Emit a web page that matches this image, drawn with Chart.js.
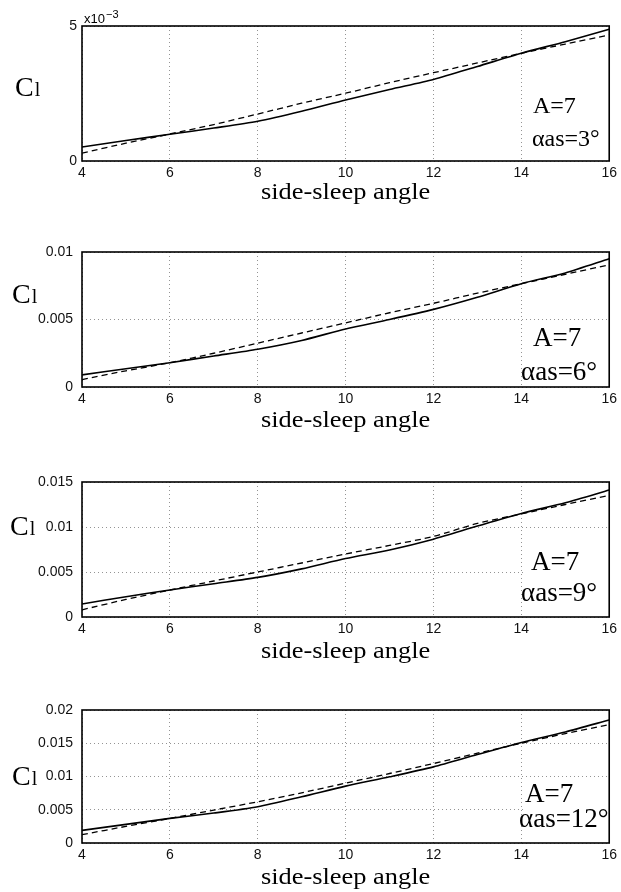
<!DOCTYPE html>
<html><head><meta charset="utf-8">
<script src="https://cdn.jsdelivr.net/npm/chart.js@4"></script>
<style>
html,body{margin:0;padding:0;background:#fff;width:621px;height:892px;overflow:hidden}
.p{position:absolute;left:0;width:621px}
</style></head><body>
<div class="p" style="top:0px"><canvas id="c0" width="621" height="226"></canvas></div>
<div class="p" style="top:226px"><canvas id="c1" width="621" height="230"></canvas></div>
<div class="p" style="top:456px"><canvas id="c2" width="621" height="228"></canvas></div>
<div class="p" style="top:684px"><canvas id="c3" width="621" height="208"></canvas></div>
<script>
// side-sleep angle (x)
const angles = [4,5,6,7,8,9,10,11,12,13,14,15,16];
// alpha_as = 3 deg
const solid3  = [0.00052,0.00076,0.00099,0.00122,0.00147,0.00184,0.00226,0.00265,0.00302,0.00350,0.00399,0.00442,0.00488];
const dashed3 = [0.00029,0.00066,0.00100,0.00135,0.00174,0.00214,0.00251,0.00290,0.00327,0.00363,0.00399,0.00433,0.00467];
// alpha_as = 6 deg
const solid6  = [0.00090,0.00135,0.00180,0.00230,0.00280,0.00345,0.00430,0.00500,0.00575,0.00665,0.00765,0.00845,0.00950];
const dashed6 = [0.00055,0.00120,0.00180,0.00250,0.00325,0.00400,0.00475,0.00550,0.00620,0.00695,0.00765,0.00835,0.00905];
// alpha_as = 9 deg
const solid9  = [0.00145,0.00225,0.00300,0.00370,0.00440,0.00535,0.00650,0.00745,0.00865,0.01010,0.01150,0.01270,0.01410];
const dashed9 = [0.00080,0.00195,0.00300,0.00400,0.00500,0.00600,0.00700,0.00795,0.00895,0.01040,0.01145,0.01250,0.01350];
// alpha_as = 12 deg
const solid12  = [0.00190,0.00280,0.00370,0.00450,0.00545,0.00695,0.00855,0.00995,0.01145,0.01330,0.01510,0.01670,0.01850];
const dashed12 = [0.00125,0.00250,0.00370,0.00495,0.00620,0.00755,0.00900,0.01045,0.01195,0.01350,0.01500,0.01645,0.01780];
// axis ranges / ticks
const yMaxes = [0.005, 0.01, 0.015, 0.02];
const yStep = 0.005;
const xTicks = {min:4, max:16, step:2};
const alphaLabels = ['\u03B1as=3\u00B0','\u03B1as=6\u00B0','\u03B1as=9\u00B0','\u03B1as=12\u00B0'];
const aLabel = 'A=7';
const xTitle = 'side-sleep angle';

const solids = [solid3, solid6, solid9, solid12];
const dasheds = [dashed3, dashed6, dashed9, dashed12];

// layout (pixels)
const layouts = [
  {canvasH:226, plotH:135, yPad:5, clX:15, clDy:-65, aX:533, aDy:-48, alX:532, alDy:-15, fs:24, tDy:38},
  {canvasH:230, plotH:135, yPad:9, clX:12, clDy:-84, aX:533, aDy:-41, alX:521, alDy:-7, fs:27, tDy:40},
  {canvasH:228, plotH:135, yPad:9, clX:10, clDy:-82, aX:531, aDy:-47, alX:521, alDy:-16, fs:27, tDy:41},
  {canvasH:208, plotH:133, yPad:9, clX:12, clDy:-58, aX:525, aDy:-41, alX:519, alDy:-16, fs:27, tDy:41}
];

const SERIF = '"Liberation Serif","Times New Roman",serif';
const SANS = '"Liberation Sans",Arial,sans-serif';

function makeChart(i){
  const L = layouts[i];
  const padTop = 26, xH = 30;
  const padBottom = L.canvasH - padTop - L.plotH - xH;
  const toXY = arr => angles.map((a,k)=>({x:a, y:arr[k]}));
  const deco = {
    id:'deco'+i,
    beforeDatasetsDraw(chart){
      const ctx = chart.ctx, ca = chart.chartArea;
      const x14 = chart.scales.x.getPixelForValue(14);
      ctx.save();
      ctx.fillStyle = '#fff';
      const top = ca.bottom + L.aDy - 22;
      ctx.fillRect(x14 + 2, top, ca.right - x14 - 3, ca.bottom - top - 1);
      ctx.restore();
    },
    afterDraw(chart){
      const ctx = chart.ctx, ca = chart.chartArea;
      ctx.save();
      // frame
      ctx.strokeStyle = '#000'; ctx.lineWidth = 1.6; ctx.setLineDash([]);
      ctx.strokeRect(ca.left, ca.top, ca.right - ca.left, ca.bottom - ca.top);
      ctx.fillStyle = '#000';
      ctx.textBaseline = 'alphabetic';
      ctx.textAlign = 'left';
      // annotation
      ctx.font = L.fs + 'px ' + SERIF;
      ctx.fillText(aLabel, L.aX, ca.bottom + L.aDy);
      ctx.fillText(alphaLabels[i], L.alX, ca.bottom + L.alDy);
      // C_l label
      const clBase = ca.bottom + L.clDy;
      ctx.font = '28px ' + SERIF;
      ctx.fillText('C', L.clX, clBase);
      const cw = ctx.measureText('C').width;
      ctx.font = '20px ' + SERIF;
      ctx.fillText('l', L.clX + cw + 1, clBase);
      // x title
      ctx.font = '24px ' + SERIF;
      const cx = (ca.left + ca.right) / 2;
      ctx.translate(cx, ca.bottom + L.tDy);
      ctx.scale(1.1, 1);
      ctx.textAlign = 'center';
      ctx.fillText(xTitle, 0, 0);
      ctx.setTransform(1,0,0,1,0,0);
      // exponent for first panel
      if (i === 0){
        ctx.textAlign = 'left';
        ctx.font = '13px ' + SANS;
        ctx.fillText('x10', ca.left + 2, ca.top - 3);
        const w = ctx.measureText('x10').width;
        ctx.font = '11px ' + SANS;
        ctx.fillText('\u22123', ca.left + 3 + w, ca.top - 8);
      }
      ctx.restore();
    }
  };
  return new Chart(document.getElementById('c'+i), {
    type:'line',
    data:{datasets:[
      {data:toXY(solids[i]), borderColor:'#000', borderWidth:1.6, pointRadius:0, tension:0.25, fill:false},
      {data:toXY(dasheds[i]), borderColor:'#000', borderWidth:1.3, borderDash:[6,4], pointRadius:0, tension:0.25, fill:false}
    ]},
    options:{
      responsive:false, animation:false, devicePixelRatio:1,
      layout:{padding:{top:padTop, left:0, right:11, bottom:padBottom}},
      plugins:{legend:{display:false}, tooltip:{enabled:false}},
      scales:{
        x:{type:'linear', min:xTicks.min, max:xTicks.max,
           ticks:{stepSize:xTicks.step, color:'#111', padding:4, font:{family:SANS, size:14}, maxRotation:0},
           grid:{color:'rgba(90,90,90,0.65)', lineWidth:1, drawTicks:false},
           border:{display:false, dash:[1,3]},
           afterFit(s){ s.height = xH; }},
        y:{type:'linear', min:0, max:yMaxes[i],
           ticks:{stepSize:yStep, color:'#111', padding:L.yPad, font:{family:SANS, size:14},
             callback:(v)=> i===0 ? String(Math.round(v*1000)) : String(+v.toFixed(3))},
           grid:{color:'rgba(90,90,90,0.65)', lineWidth:1, drawTicks:false},
           border:{display:false, dash:[1,3]},
           afterFit(s){ s.width = 82; }}
      }
    },
    plugins:[deco]
  });
}
for (let i=0;i<4;i++) makeChart(i);
</script>
</body></html>
